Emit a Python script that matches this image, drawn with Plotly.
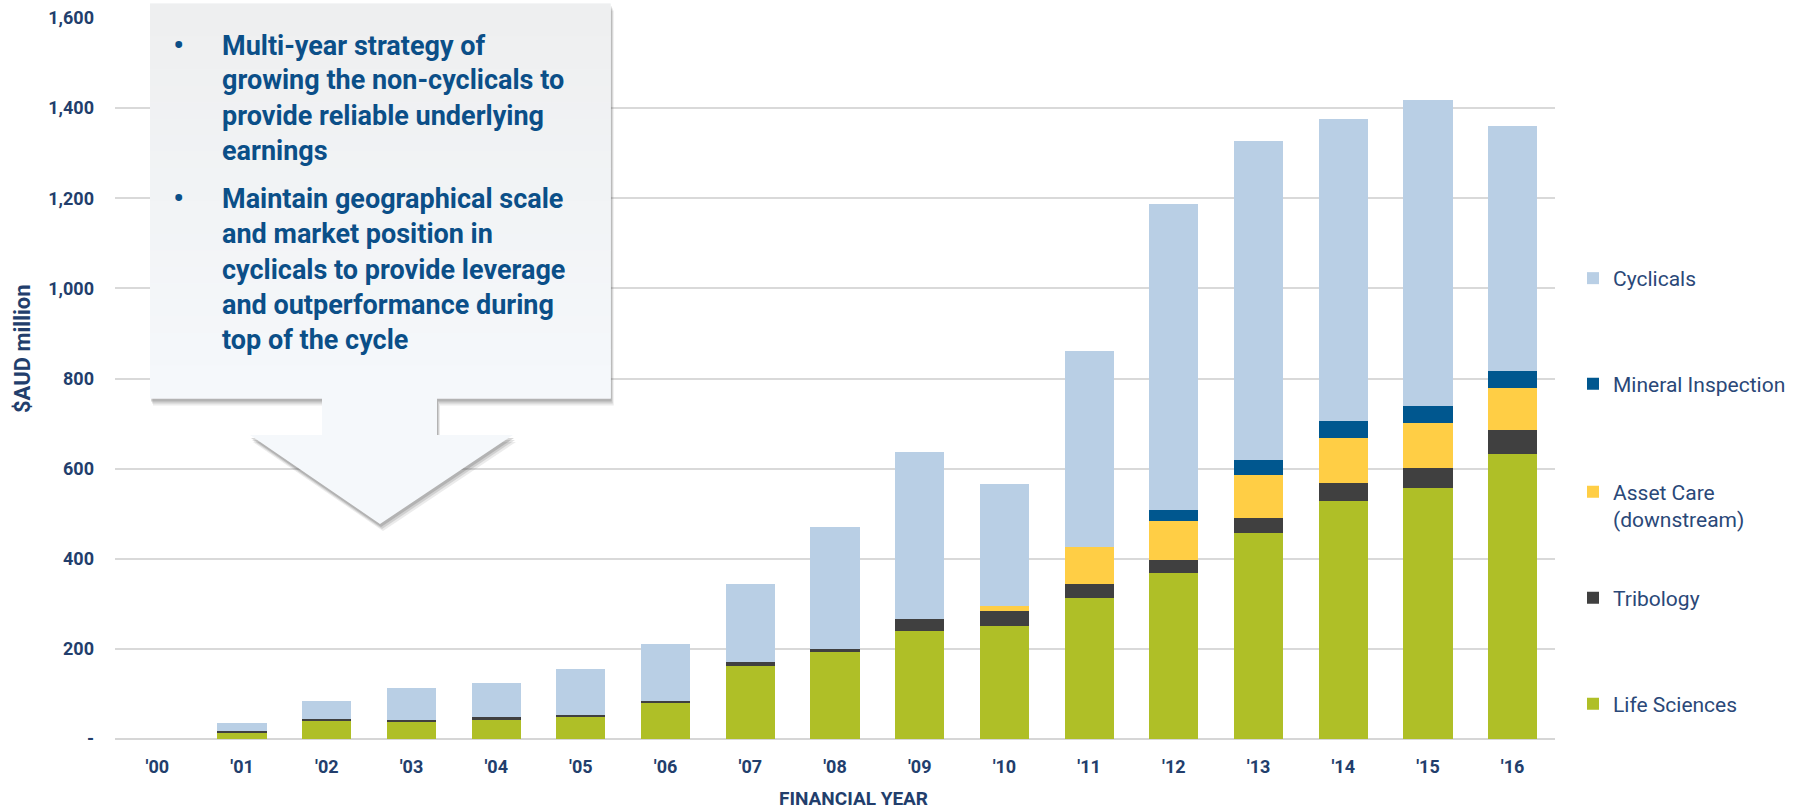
import plotly.graph_objects as go

# ---------------- data ----------------
years = ["'00", "'01", "'02", "'03", "'04", "'05", "'06", "'07", "'08",
         "'09", "'10", "'11", "'12", "'13", "'14", "'15", "'16"]
life_sciences = [0, 15, 41, 39, 44, 49, 80, 163, 193, 240, 251, 313, 369, 457, 529, 556, 633]
tribology = [0, 2, 4, 4, 4, 4, 5, 8, 7, 27, 32, 31, 29, 34, 40, 46, 52]
asset_care = [0, 0, 0, 0, 0, 0, 0, 0, 0, 0, 13, 81, 86, 95, 100, 100, 93]
mineral_inspection = [0, 0, 0, 0, 0, 0, 0, 0, 0, 0, 0, 0, 25, 33, 36, 36, 39]
cyclicals = [0, 18, 40, 70, 76, 102, 126, 173, 271, 371, 269, 436, 678, 708, 671, 681, 544]

y_tickvals = [0, 200, 400, 600, 800, 1000, 1200, 1400, 1600]
y_ticktext = ["-", "200", "400", "600", "800", "1,000", "1,200", "1,400", "1,600"]

callout_para1 = ["Multi-year strategy of", "growing the non-cyclicals to",
                 "provide reliable underlying", "earnings"]
callout_para2 = ["Maintain geographical scale", "and market position in",
                 "cyclicals to provide leverage", "and outperformance during",
                 "top of the cycle"]

# ---------------- layout constants ----------------
W, H = 1806, 811
ML, MR, MT, MB = 115, 251, 18, 72
PW = W - ML - MR
PH = H - MT - MB
BOT = H - MB

def px(x):
    return (x - ML) / PW

def py(y):
    return (BOT - y) / PH

NAVY = "#223e6c"
TEXTBLUE = "#0b4f88"
COND = "Roboto, sans-serif"

series = [
    ("Life Sciences", life_sciences, "#afbf27", "legend5"),
    ("Tribology", tribology, "#404040", "legend4"),
    ("Asset Care<br>(downstream)", asset_care, "#ffce45", "legend3"),
    ("Mineral Inspection", mineral_inspection, "#00578f", "legend2"),
    ("Cyclicals", cyclicals, "#b9cfe5", "legend"),
]

fig = go.Figure()
for name, vals, col, leg in series:
    fig.add_trace(go.Bar(
        x=years, y=vals, name=name, legend=leg,
        marker=dict(color=col, line=dict(width=0)),
        hoverinfo="x+y+name",
    ))

# ---------------- callout shape ----------------
def path_from(points, dx=0.0, dy=0.0):
    s = ""
    for i, (x, y) in enumerate(points):
        s += ("M" if i == 0 else "L") + f"{px(x + dx):.5f},{py(y + dy):.5f} "
    return s + "Z"

box_top, box_bot = 3.4, 398.5
box_l, box_r = 150, 610.7
callout_pts = [(box_l, box_top), (box_r, box_top), (box_r, box_bot), (437, box_bot),
               (437, 435), (513, 435), (380, 524), (250, 435), (322, 435),
               (322, box_bot), (box_l, box_bot)]

shapes = []
for k, (ddx, ddy, op) in enumerate([(3, 7, 0.12), (2, 5, 0.18), (1, 3, 0.25)]):
    shapes.append(dict(type="path", xref="paper", yref="paper", layer="above",
                       path=path_from(callout_pts, ddx, ddy),
                       fillcolor=f"rgba(90,90,90,{op})", line=dict(width=0)))
shapes.append(dict(type="path", xref="paper", yref="paper", layer="above",
                   path=path_from(callout_pts), fillcolor="#f5f8fb",
                   line=dict(width=0)))
# vertical gradient on box
n = 24
c0 = (238, 239, 240)
c1 = (245, 248, 251)
for i in range(n):
    y0 = box_top + (box_bot - box_top) * i / n
    y1 = box_top + (box_bot - box_top) * (i + 1) / n + 0.6
    t = i / (n - 1)
    c = tuple(round(c0[j] + (c1[j] - c0[j]) * t) for j in range(3))
    shapes.append(dict(type="rect", xref="paper", yref="paper", layer="above",
                       x0=px(box_l), x1=px(box_r), y0=py(min(y1, box_bot)), y1=py(y0),
                       fillcolor=f"rgb{c}", line=dict(width=0)))

# ---------------- annotations ----------------
ann = []
line_y1 = [46, 80, 115.5, 151]
line_y2 = [199, 234.5, 269.5, 304.5, 339.5]
CALLFONT = dict(family=COND, size=27, color=TEXTBLUE, weight="bold")
for txt, yy in zip(callout_para1, line_y1):
    ann.append(dict(text=txt, x=px(220), y=py(yy), xref="paper", yref="paper",
                    xanchor="left", yanchor="middle", showarrow=False, font=CALLFONT))
for txt, yy in zip(callout_para2, line_y2):
    ann.append(dict(text=txt, x=px(220), y=py(yy), xref="paper", yref="paper",
                    xanchor="left", yanchor="middle", showarrow=False, font=CALLFONT))
for yy in (line_y1[0], line_y2[0]):
    ann.append(dict(text="•", x=px(178), y=py(yy - 1), xref="paper", yref="paper",
                    xanchor="center", yanchor="middle", showarrow=False,
                    font=dict(family=COND, size=34, color=TEXTBLUE)))

ann.append(dict(text="$AUD million", x=px(22), y=py(348), xref="paper", yref="paper",
                xanchor="center", yanchor="middle", textangle=-90, showarrow=False,
                font=dict(family=COND, size=22, color=NAVY, weight="bold")))
ann.append(dict(text="FINANCIAL YEAR", x=px(854), y=py(798), xref="paper", yref="paper",
                xanchor="center", yanchor="middle", showarrow=False,
                font=dict(family=COND, size=19, color=NAVY, weight="bold")))

# ---------------- legends (container refs so they never push margins) ----------------
LEGFONT = dict(family=COND, size=21, color="#2a4878")
def leg(yc):
    return dict(xref="container", yref="container", x=1573 / W, y=(H - yc) / H,
                xanchor="left", yanchor="middle", valign="top",
                bgcolor="rgba(0,0,0,0)", font=LEGFONT, borderwidth=0)

fig.update_layout(
    width=W, height=H,
    margin=dict(l=ML, r=MR, t=MT, b=MB, pad=0, autoexpand=False),
    paper_bgcolor="white", plot_bgcolor="white",
    barmode="stack", bargap=0.42,
    showlegend=True,
    legend=leg(278.5),
    legend2=leg(384),
    legend3=leg(505.5),
    legend4=leg(598),
    legend5=leg(704),
    xaxis=dict(type="category", showgrid=False, showline=False, ticks="",
               tickfont=dict(family=COND, size=18, color=NAVY, weight="bold"),
               ticklabelstandoff=15, fixedrange=True, automargin=False),
    yaxis=dict(range=[0, 1600], tickvals=y_tickvals, ticktext=y_ticktext,
               showgrid=True, gridcolor="#d9d9d9", gridwidth=2,
               zeroline=True, zerolinecolor="#d6d6d6", zerolinewidth=2,
               showline=False, ticks="",
               tickfont=dict(family=COND, size=18, color=NAVY, weight="bold"),
               ticklabelstandoff=20, fixedrange=True, automargin=False),
    shapes=shapes,
    annotations=ann,
)

fig.write_html("out.html")
